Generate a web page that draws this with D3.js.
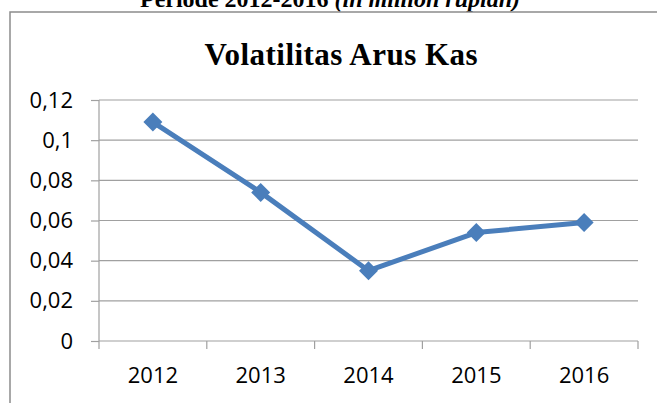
<!DOCTYPE html>
<html>
<head>
  <meta charset="utf-8">
  <style>
    body { margin: 0; background: #fff; }
    .grid line { stroke: #a0a0a0; stroke-width: 1.2px; }
    .axis path, .axis line { stroke: #a0a0a0; stroke-width: 1.2px; }
    .axis text { font-family: "Open Sans", sans-serif; font-size: 22px; fill: #000; }
    .frame { fill: none; stroke: #8c8c8c; stroke-width: 1.5px; }
  </style>
</head>
<body>
  <svg width="657" height="403"></svg>
  <script src="https://d3js.org/d3.v7.min.js"></script>
  <script>
    const years = ["2012", "2013", "2014", "2015", "2016"];
    const volatility = [0.109, 0.074, 0.035, 0.054, 0.059];
    const yTicks = [0, 0.02, 0.04, 0.06, 0.08, 0.1, 0.12];

    const svg = d3.select("svg");
    const plotL = 99, plotR = 638, plotT = 100, plotB = 341;

    const x = d3.scaleBand().domain(years).range([plotL, plotR]);
    const y = d3.scaleLinear().domain([0, 0.12]).range([plotB, plotT]);
    const fmt = d => String(d).replace(".", ",");

    // caption above the chart box (cut off at the top, as in the source)
    const cap = svg.append("text")
      .attr("x", 330).attr("y", 7)
      .attr("text-anchor", "middle")
      .style("font-family", "'Liberation Serif', serif")
      .style("font-weight", "bold")
      .style("font-size", "24px");
    cap.append("tspan").text("Periode 2012-2016 ");
    cap.append("tspan").style("font-style", "italic").text("(in million rupiah)");

    svg.append("rect").attr("class", "frame")
      .attr("x", 10).attr("y", 12).attr("width", 700).attr("height", 450);

    svg.append("text")
      .attr("x", 341).attr("y", 65)
      .attr("text-anchor", "middle")
      .style("font-family", "'Liberation Serif', serif")
      .style("font-weight", "bold")
      .style("font-size", "31px")
      .attr("textLength", 273)
      .text("Volatilitas Arus Kas");

    svg.append("g").attr("class", "grid")
      .selectAll("line")
      .data(yTicks.slice(1))
      .join("line")
      .attr("x1", plotL).attr("x2", plotR)
      .attr("y1", d => y(d)).attr("y2", d => y(d));

    svg.append("g").attr("class", "axis")
      .attr("transform", `translate(${plotL},0)`)
      .call(d3.axisLeft(y).tickValues(yTicks).tickFormat(fmt).tickSize(8).tickPadding(18))
      .call(g => g.select(".domain").attr("d", `M0,${plotB}V${plotT}`));

    const xAxis = svg.append("g").attr("class", "axis")
      .attr("transform", `translate(0,${plotB})`)
      .call(d3.axisBottom(x).tickSize(0).tickPadding(26));
    xAxis.select(".domain").attr("d", `M${plotL},0H${plotR}`);
    xAxis.selectAll(".bound")
      .data(years.map(d => x(d)).concat([plotR]))
      .join("line")
      .attr("x1", d => d).attr("x2", d => d)
      .attr("y1", 0).attr("y2", 8);

    const pts = years.map((d, i) => [x(d) + x.bandwidth() / 2, y(volatility[i])]);

    svg.append("path")
      .datum(pts)
      .attr("fill", "none")
      .attr("stroke", "#4a7ebb")
      .attr("stroke-width", 5)
      .attr("stroke-linejoin", "round")
      .attr("d", d3.line());

    svg.append("g")
      .selectAll("path")
      .data(pts)
      .join("path")
      .attr("fill", "#4a7ebb")
      .attr("transform", d => `translate(${d[0]},${d[1]})`)
      .attr("d", d3.symbol(d3.symbolDiamond2, 230)());
  </script>
</body>
</html>
